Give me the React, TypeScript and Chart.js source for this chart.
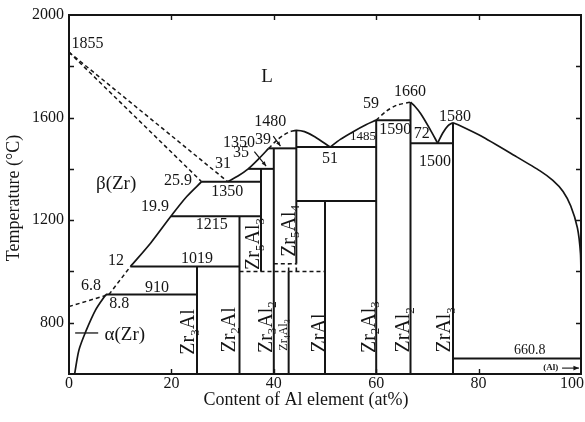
import { useEffect, useRef } from "react";
import { Chart, registerables } from "chart.js";

Chart.register(...registerables);

type Pt = [number, number];

const FONT = "'Liberation Serif', 'Times New Roman', serif";
const INK = "#151515";

// ---- axes ----
const X_MIN = 0;
const X_MAX = 100;
const T_MIN = 600;
const T_MAX = 2000;
const xTickLabels = [0, 20, 40, 60, 80, 100];
const tTickLabels = [800, 1200, 1600, 2000];
const xInnerTicks = [20, 40, 60, 80];
const tInnerTicks = [800, 1000, 1200, 1400, 1600, 1800];

// ---- invariant temperatures (°C) ----
const T_ZR_MELT = 1855;
const T_AL_MELT = 660.8;
const T_EUTECTOID = 910;
const T_ZR3AL = 1019;
const T_ZR2AL = 1215;
const T_BETA_EUT = 1350;
const T_ZR5AL3 = 1400;
const T_ZR3AL2 = 1480;
const T_ZR5AL4 = 1550;
const T_EUT_51 = 1485;
const T_ZRAL = 1275;
const T_ZR2AL3 = 1590;
const T_ZRAL2 = 1660;
const T_EUT_72 = 1500;
const T_ZRAL3 = 1580;
const T_ZR4AL3 = 1030;
const T_LOW = 1000;
const T_BETA_TRANSUS = 863;

// ---- compositions (at% Al) ----
const C_ZR3AL = 25;
const C_ZR2AL = 33.3;
const C_ZR5AL3 = 37.5;
const C_ZR3AL2 = 40;
const C_ZR4AL3 = 42.9;
const C_ZR5AL4 = 44.4;
const C_ZRAL = 50;
const C_ZR2AL3 = 60;
const C_ZRAL2 = 66.7;
const C_ZRAL3 = 75;
const C_BETA_1350 = 25.9;
const C_LIQ_1350 = 31;
const C_BETA_1215 = 19.9;
const C_BETA_1019 = 12;
const C_ALPHA_910 = 7.2;
const C_BETA_910 = 7.8;

// ---- boundary curves [at% Al, °C] ----
const betaSolidus: Pt[] = [[0, T_ZR_MELT], [C_BETA_1350, T_BETA_EUT]];
const betaLiquidus: Pt[] = [[0, T_ZR_MELT], [C_LIQ_1350, T_BETA_EUT]];
const betaSolvusUpper: Pt[] = [[C_BETA_1019, T_ZR3AL], [16, 1112], [C_BETA_1215, T_ZR2AL], [23, 1292], [C_BETA_1350, T_BETA_EUT]];
const betaSolvusLower: Pt[] = [[C_BETA_910, T_EUTECTOID], [C_BETA_1019, T_ZR3AL]];
const betaTransus: Pt[] = [[0, T_BETA_TRANSUS], [C_BETA_910, T_EUTECTOID]];
const alphaSolvus: Pt[] = [[1.1, 600], [1.95, 694], [3.26, 765], [5.2, 850], [C_ALPHA_910, T_EUTECTOID]];

const liquidus31to39: Pt[] = [[C_LIQ_1350, T_BETA_EUT], [33, 1372], [35, T_ZR5AL3], [37, 1438], [39, T_ZR3AL2]];
const liquidusDomeRise: Pt[] = [[39, T_ZR3AL2], [40.5, 1510], [42, 1533], [43.3, 1546]];
const liquidusDomeFall: Pt[] = [[43.3, 1546], [C_ZR5AL4, T_ZR5AL4], [46, 1545], [48, 1525], [51, T_EUT_51]];
const liquidus51to60: Pt[] = [[51, T_EUT_51], [53, 1515], [55.5, 1545], [58, 1572], [C_ZR2AL3, T_ZR2AL3]];
const liquidus60to67: Pt[] = [[C_ZR2AL3, T_ZR2AL3], [62, 1625], [64, 1648], [C_ZRAL2, T_ZRAL2]];
const liquidus67to72: Pt[] = [[C_ZRAL2, T_ZRAL2], [67.5, 1645], [68.7, 1615], [70.5, 1555], [72, T_EUT_72]];
const liquidus72to75: Pt[] = [[72, T_EUT_72], [73, 1540], [74, 1568], [C_ZRAL3, T_ZRAL3]];
const liquidusAl: Pt[] = [[C_ZRAL3, T_ZRAL3], [76, 1572], [80.5, 1528], [87, 1452], [92, 1392], [94.5, 1355], [96.5, 1312], [98, 1255], [99.3, 1170], [99.9, 1070], [100, 960], [100, T_AL_MELT]];

// ---- isotherms [from, to, °C] ----
const isotherms: [number, number, number][] = [
  [C_ALPHA_910, C_ZR3AL, T_EUTECTOID],
  [C_BETA_1019, C_ZR2AL, T_ZR3AL],
  [C_BETA_1215, C_ZR5AL3, T_ZR2AL],
  [C_BETA_1350, C_ZR5AL3, T_BETA_EUT],
  [35, C_ZR3AL2, T_ZR5AL3],
  [39, C_ZR5AL4, T_ZR3AL2],
  [C_ZR5AL4, C_ZR2AL3, T_EUT_51],
  [C_ZR5AL4, C_ZR2AL3, T_ZRAL],
  [C_ZR2AL3, C_ZRAL2, T_ZR2AL3],
  [C_ZRAL2, C_ZRAL3, T_EUT_72],
  [C_ZRAL3, 100, T_AL_MELT],
];
const dashedIsotherms: [number, number, number][] = [
  [C_ZR2AL, C_ZRAL, T_LOW],
  [C_ZR3AL2, C_ZR5AL4, T_ZR4AL3],
];

// ---- line compounds [at% Al, from °C, to °C] ----
const compounds: [number, number, number][] = [
  [C_ZR3AL, T_MIN, T_ZR3AL],
  [C_ZR2AL, T_MIN, T_ZR2AL],
  [C_ZR5AL3, T_LOW, T_ZR5AL3],
  [C_ZR3AL2, T_MIN, T_ZR3AL2],
  [C_ZR4AL3, T_MIN, T_LOW],
  [C_ZR5AL4, T_ZR4AL3, T_ZR5AL4],
  [C_ZRAL, T_MIN, T_ZRAL],
  [C_ZR2AL3, T_MIN, T_ZR2AL3],
  [C_ZRAL2, T_MIN, T_ZRAL2],
  [C_ZRAL3, T_MIN, T_ZRAL3],
];
const dashedCompounds: [number, number, number][] = [
  [C_ZR4AL3, T_LOW, T_ZR4AL3],
  [C_ZR5AL4, T_LOW, T_ZR4AL3],
];

// ---- leader lines ----
const leaderAlpha: Pt[] = [[1.2, 760], [5.7, 760]];
const leader35: Pt[] = [[36.2, 1467], [38.5, 1411]];
const leader39: Pt[] = [[39.9, 1528], [41.3, 1489]];
const arrowAl: Pt[] = [[96.3, 623], [99.6, 623]];

// ---- text placed in the diagram ----
const valueLabels: { text: string; at: Pt; size: number }[] = [
  { text: String(T_ZR_MELT), at: [3.6, 1887], size: 16 },
  { text: String(C_BETA_1350), at: [21.3, 1353], size: 16 },
  { text: String(C_LIQ_1350), at: [30.1, 1419], size: 16 },
  { text: String(T_BETA_EUT), at: [30.9, 1310], size: 16 },
  { text: "35", at: [33.6, 1462], size: 16 },
  { text: "1350", at: [33.2, 1501], size: 16 },
  { text: "39", at: [37.9, 1513], size: 16 },
  { text: String(T_ZR3AL2), at: [39.3, 1583], size: 16 },
  { text: String(C_BETA_1215), at: [16.8, 1251], size: 16 },
  { text: String(T_ZR2AL), at: [27.9, 1181], size: 16 },
  { text: String(C_BETA_1019), at: [9.2, 1041], size: 16 },
  { text: String(T_ZR3AL), at: [25, 1049], size: 16 },
  { text: "6.8", at: [4.3, 943], size: 16 },
  { text: String(T_EUTECTOID), at: [17.2, 935], size: 16 },
  { text: "8.8", at: [9.8, 873], size: 16 },
  { text: "51", at: [51, 1439], size: 16 },
  { text: String(T_EUT_51), at: [57.4, 1524], size: 13 },
  { text: "59", at: [59, 1653], size: 16 },
  { text: String(T_ZRAL2), at: [66.6, 1700], size: 16 },
  { text: String(T_ZR2AL3), at: [63.7, 1552], size: 16 },
  { text: "72", at: [68.9, 1536], size: 16 },
  { text: String(T_ZRAL3), at: [75.4, 1602], size: 16 },
  { text: String(T_EUT_72), at: [71.5, 1427], size: 16 },
  { text: String(T_AL_MELT), at: [90, 694], size: 14 },
];
const phaseNames: { text: string; at: Pt; size: number }[] = [
  { text: "L", at: [38.7, 1758], size: 19 },
  { text: "β(Zr)", at: [9.2, 1341], size: 19 },
  { text: "α(Zr)", at: [10.9, 752], size: 19 },
];
const compoundNames: { text: string; at: Pt; size: number }[] = [
  { text: "Zr3Al", at: [23.2, 764], size: 20 },
  { text: "Zr2Al", at: [31.1, 772], size: 20 },
  { text: "Zr3Al2", at: [38.3, 783], size: 20 },
  { text: "Zr4Al3", at: [41.8, 752], size: 12 },
  { text: "Zr5Al3", at: [35.9, 1107], size: 20 },
  { text: "Zr5Al4", at: [42.8, 1158], size: 20 },
  { text: "ZrAl", at: [48.8, 760], size: 20 },
  { text: "Zr2Al3", at: [58.4, 783], size: 20 },
  { text: "ZrAl2", at: [65.2, 772], size: 20 },
  { text: "ZrAl3", at: [73.2, 772], size: 20 },
];

const X_TITLE = "Content of Al element (at%)";
const T_TITLE = "Temperature (°C)";

// ---- dataset builders ----
const toXY = (pts: Pt[]) => pts.map(([x, y]) => ({ x, y }));
const line = (pts: Pt[], width = 2, dash: number[] = [], tension = 0) => ({
  data: toXY(pts),
  showLine: true,
  pointRadius: 0,
  pointHoverRadius: 0,
  borderColor: INK,
  borderWidth: width,
  borderDash: dash,
  tension,
  fill: false,
});
const DASH = [4, 3];

function buildDatasets() {
  const sets: any[] = [];
  sets.push(line(betaSolidus, 1.5, DASH));
  sets.push(line(betaLiquidus, 1.5, DASH));
  sets.push(line(betaSolvusUpper, 1.7, [], 0.3));
  sets.push(line(betaSolvusLower, 1.5, DASH));
  sets.push(line(betaTransus, 1.5, DASH));
  sets.push(line(alphaSolvus, 1.7, [], 0.3));
  sets.push(line(liquidus31to39, 1.7, [], 0.3));
  sets.push(line(liquidusDomeRise, 1.5, DASH, 0.3));
  sets.push(line(liquidusDomeFall, 1.7, [], 0.3));
  sets.push(line(liquidus51to60, 1.7, [], 0.3));
  sets.push(line(liquidus60to67, 1.5, DASH, 0.3));
  sets.push(line(liquidus67to72, 1.7, [], 0.3));
  sets.push(line(liquidus72to75, 1.7, [], 0.3));
  sets.push(line(liquidusAl, 1.7, [], 0.2));
  isotherms.forEach(([a, b, t]) => sets.push(line([[a, t], [b, t]], 2)));
  dashedIsotherms.forEach(([a, b, t]) => sets.push(line([[a, t], [b, t]], 1.6, DASH)));
  compounds.forEach(([c, lo, hi]) => sets.push(line([[c, lo], [c, hi]], 2)));
  dashedCompounds.forEach(([c, lo, hi]) => sets.push(line([[c, lo], [c, hi]], 1.6, DASH)));
  sets.push(line(leaderAlpha, 1.3));
  sets.push(line(leader35, 1.2));
  sets.push(line(leader39, 1.2));
  sets.push(line(arrowAl, 1.1));
  return sets;
}

// formula with numeric subscripts, centred on the origin
function drawFormula(ctx: CanvasRenderingContext2D, text: string, size: number) {
  const runs = text.match(/[A-Za-z()]+|\d+/g) || [];
  const subSize = Math.round(size * 0.66);
  const widths = runs.map((r) => {
    ctx.font = `${/\d/.test(r) ? subSize : size}px ${FONT}`;
    return ctx.measureText(r).width;
  });
  const total = widths.reduce((s, w) => s + w, 0);
  let cx = -total / 2;
  ctx.textAlign = "left";
  ctx.textBaseline = "alphabetic";
  runs.forEach((r, i) => {
    const sub = /\d/.test(r);
    ctx.font = `${sub ? subSize : size}px ${FONT}`;
    ctx.fillText(r, cx, size * 0.33 + (sub ? size * 0.22 : 0));
    cx += widths[i];
  });
}

const decorPlugin = {
  id: "phaseDecor",
  beforeDraw(chart: any) {
    const { ctx, width, height } = chart;
    ctx.save();
    ctx.fillStyle = "#ffffff";
    ctx.fillRect(0, 0, width, height);
    ctx.restore();
    // keep the last x label inside the frame
    const xs = chart.scales.x;
    const items = xs && xs.getLabelItems ? xs.getLabelItems() : null;
    if (items && items.length) {
      const last = items[items.length - 1];
      if (String(last.label) === String(X_MAX)) {
        last.options.textAlign = "right";
        last.options.translation = [chart.chartArea.right + 3, last.options.translation[1]];
      }
    }
  },
  afterDatasetsDraw(chart: any) {
    const { ctx, chartArea: a } = chart;
    const xs = chart.scales.x;
    const ys = chart.scales.y;
    const px = (v: number) => xs.getPixelForValue(v);
    const py = (v: number) => ys.getPixelForValue(v);
    ctx.save();
    ctx.strokeStyle = INK;
    ctx.fillStyle = INK;

    // frame
    ctx.lineWidth = 2;
    ctx.strokeRect(a.left, a.top, a.right - a.left, a.bottom - a.top);

    // inward tick marks
    ctx.lineWidth = 1.4;
    ctx.beginPath();
    xInnerTicks.forEach((v) => {
      const x = Math.round(px(v)) + 0.5;
      ctx.moveTo(x, a.bottom);
      ctx.lineTo(x, a.bottom - 5);
      ctx.moveTo(x, a.top);
      ctx.lineTo(x, a.top + 5);
    });
    tInnerTicks.forEach((v) => {
      const y = Math.round(py(v)) + 0.5;
      ctx.moveTo(a.left, y);
      ctx.lineTo(a.left + 5, y);
      ctx.moveTo(a.right, y);
      ctx.lineTo(a.right - 5, y);
    });
    ctx.stroke();

    // arrow heads
    const head = (from: Pt, to: Pt, len: number) => {
      const x1 = px(from[0]), y1 = py(from[1]);
      const x2 = px(to[0]), y2 = py(to[1]);
      const ang = Math.atan2(y2 - y1, x2 - x1);
      ctx.beginPath();
      ctx.moveTo(x2, y2);
      ctx.lineTo(x2 - len * Math.cos(ang - 0.4), y2 - len * Math.sin(ang - 0.4));
      ctx.lineTo(x2 - len * Math.cos(ang + 0.4), y2 - len * Math.sin(ang + 0.4));
      ctx.closePath();
      ctx.fill();
    };
    head(arrowAl[0], arrowAl[1], 6);
    head(leader35[0], leader35[1], 5);
    head(leader39[0], leader39[1], 5);

    // numeric labels
    ctx.textAlign = "center";
    ctx.textBaseline = "middle";
    valueLabels.forEach((l) => {
      ctx.font = `${l.size}px ${FONT}`;
      ctx.fillText(l.text, px(l.at[0]), py(l.at[1]));
    });
    phaseNames.forEach((l) => {
      ctx.font = `${l.size}px ${FONT}`;
      ctx.fillText(l.text, px(l.at[0]), py(l.at[1]));
    });
    ctx.font = `bold 9px ${FONT}`;
    ctx.fillText("(Al)", px(94.1), py(623));

    // compound names, written upward
    compoundNames.forEach((l) => {
      ctx.save();
      ctx.translate(px(l.at[0]), py(l.at[1]));
      ctx.rotate(-Math.PI / 2);
      drawFormula(ctx, l.text, l.size);
      ctx.restore();
    });

    // axis titles
    ctx.font = `18px ${FONT}`;
    ctx.textAlign = "center";
    ctx.textBaseline = "middle";
    ctx.fillText(X_TITLE, 306, 400);
    ctx.save();
    ctx.translate(14, 198);
    ctx.rotate(-Math.PI / 2);
    ctx.fillText(T_TITLE, 0, 0);
    ctx.restore();

    ctx.restore();
  },
};

export default function App() {
  const canvasRef = useRef<HTMLCanvasElement | null>(null);

  useEffect(() => {
    const canvas = canvasRef.current;
    if (!canvas) return;
    const chart = new Chart(canvas, {
      type: "scatter",
      data: { datasets: buildDatasets() },
      options: {
        responsive: false,
        maintainAspectRatio: false,
        animation: false,
        devicePixelRatio: 1,
        layout: { padding: { top: 15, right: 4, left: 0, bottom: 0 } },
        plugins: {
          legend: { display: false },
          tooltip: { enabled: false },
          title: { display: false },
        },
        events: [],
        scales: {
          x: {
            type: "linear",
            min: X_MIN,
            max: X_MAX,
            grid: { display: false, drawTicks: false },
            border: { display: false },
            ticks: {
              stepSize: 20,
              padding: 0,
              color: INK,
              font: { family: FONT, size: 16 },
              maxRotation: 0,
              autoSkip: false,
              callback: (v: any) => (xTickLabels.includes(Number(v)) ? String(v) : ""),
            },
            afterFit: (s: any) => {
              s.height = 48;
              s.paddingLeft = 0;
              s.paddingRight = 0;
            },
          },
          y: {
            type: "linear",
            min: T_MIN,
            max: T_MAX,
            grid: { display: false, drawTicks: false },
            border: { display: false },
            ticks: {
              stepSize: 200,
              padding: 5,
              color: INK,
              font: { family: FONT, size: 16 },
              autoSkip: false,
              callback: (v: any) => (tTickLabels.includes(Number(v)) ? String(v) : ""),
            },
            afterFit: (s: any) => {
              s.width = 69;
              s.paddingTop = 0;
              s.paddingBottom = 0;
            },
          },
        },
      } as any,
      plugins: [decorPlugin],
    });
    return () => chart.destroy();
  }, []);

  return (
    <div style={{ position: "fixed", left: 0, top: 0, width: 585, height: 422, background: "#fff" }}>
      <canvas ref={canvasRef} width={585} height={422} style={{ display: "block" }} />
    </div>
  );
}
